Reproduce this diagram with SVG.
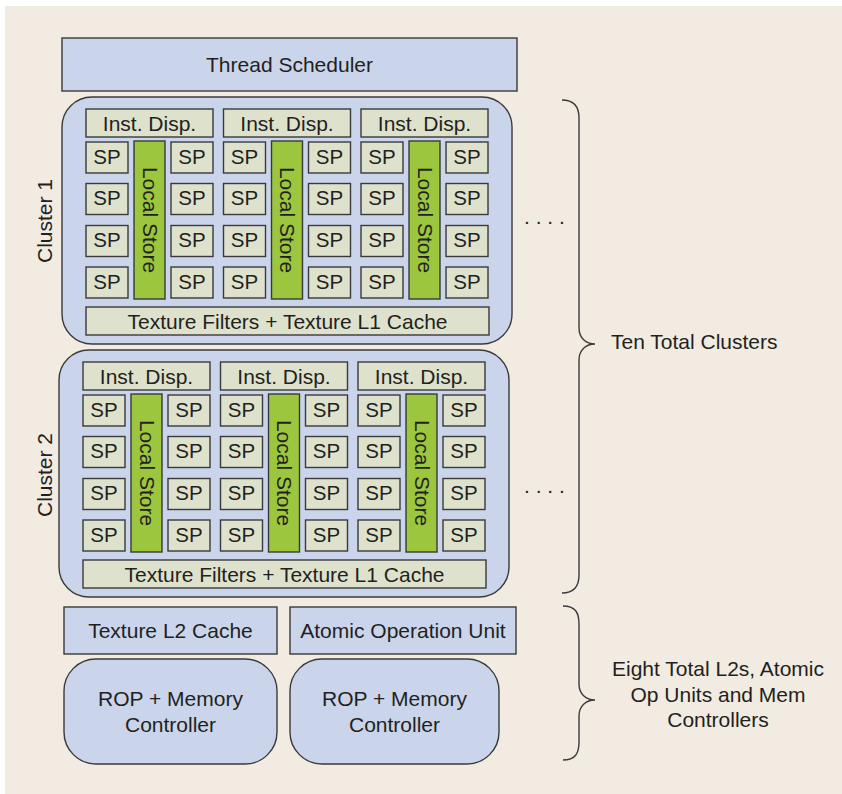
<svg xmlns="http://www.w3.org/2000/svg" width="842" height="794" viewBox="0 0 842 794">
<style>
text{font-family:"Liberation Sans",Arial,Helvetica,sans-serif;font-size:21px;fill:#231f20}
.m{text-anchor:middle}
.sp text{font-size:20.5px;text-anchor:middle}
.blue{fill:#cad5ec;stroke:#3a3a3a;stroke-width:1.4}
.lt{fill:#dee2cd;stroke:#3a3a3a;stroke-width:1.4}
.gr{fill:#9bc63d;stroke:#3a3a3a;stroke-width:1.4}
.br{fill:none;stroke:#3a3a3a;stroke-width:1.4}
</style>
<defs>
<g id="clusterBody">
  <g class="inst">
    <rect class="lt" x="86" y="109" width="127" height="28"/>
    <rect class="lt" x="223.5" y="109" width="127" height="28"/>
    <rect class="lt" x="361" y="109" width="127" height="28"/>
    <text class="m" x="149.5" y="130.5">Inst. Disp.</text>
    <text class="m" x="287" y="130.5">Inst. Disp.</text>
    <text class="m" x="424.5" y="130.5">Inst. Disp.</text>
  </g>
  <g class="sp">
    <rect class="lt" x="86" y="142" width="42" height="31"/><rect class="lt" x="171" y="142" width="42" height="31"/>
    <rect class="lt" x="223.5" y="142" width="42" height="31"/><rect class="lt" x="308.5" y="142" width="42" height="31"/>
    <rect class="lt" x="361" y="142" width="42" height="31"/><rect class="lt" x="446" y="142" width="42" height="31"/>
    <rect class="lt" x="86" y="183.5" width="42" height="31"/><rect class="lt" x="171" y="183.5" width="42" height="31"/>
    <rect class="lt" x="223.5" y="183.5" width="42" height="31"/><rect class="lt" x="308.5" y="183.5" width="42" height="31"/>
    <rect class="lt" x="361" y="183.5" width="42" height="31"/><rect class="lt" x="446" y="183.5" width="42" height="31"/>
    <rect class="lt" x="86" y="225.5" width="42" height="31"/><rect class="lt" x="171" y="225.5" width="42" height="31"/>
    <rect class="lt" x="223.5" y="225.5" width="42" height="31"/><rect class="lt" x="308.5" y="225.5" width="42" height="31"/>
    <rect class="lt" x="361" y="225.5" width="42" height="31"/><rect class="lt" x="446" y="225.5" width="42" height="31"/>
    <rect class="lt" x="86" y="267" width="42" height="31"/><rect class="lt" x="171" y="267" width="42" height="31"/>
    <rect class="lt" x="223.5" y="267" width="42" height="31"/><rect class="lt" x="308.5" y="267" width="42" height="31"/>
    <rect class="lt" x="361" y="267" width="42" height="31"/><rect class="lt" x="446" y="267" width="42" height="31"/>
    <text x="107" y="163.5">SP</text><text x="192" y="163.5">SP</text><text x="244.5" y="163.5">SP</text><text x="329.5" y="163.5">SP</text><text x="382" y="163.5">SP</text><text x="467" y="163.5">SP</text>
    <text x="107" y="205">SP</text><text x="192" y="205">SP</text><text x="244.5" y="205">SP</text><text x="329.5" y="205">SP</text><text x="382" y="205">SP</text><text x="467" y="205">SP</text>
    <text x="107" y="247">SP</text><text x="192" y="247">SP</text><text x="244.5" y="247">SP</text><text x="329.5" y="247">SP</text><text x="382" y="247">SP</text><text x="467" y="247">SP</text>
    <text x="107" y="288.5">SP</text><text x="192" y="288.5">SP</text><text x="244.5" y="288.5">SP</text><text x="329.5" y="288.5">SP</text><text x="382" y="288.5">SP</text><text x="467" y="288.5">SP</text>
  </g>
  <g class="ls">
    <rect class="gr" x="134" y="141" width="31" height="158"/>
    <rect class="gr" x="271.5" y="141" width="31" height="158"/>
    <rect class="gr" x="409" y="141" width="31" height="158"/>
    <text class="m" x="220" y="-142.5" transform="rotate(90)">Local Store</text>
    <text class="m" x="220" y="-280" transform="rotate(90)">Local Store</text>
    <text class="m" x="220" y="-417.5" transform="rotate(90)">Local Store</text>
  </g>
  <rect class="lt" x="86" y="307" width="403" height="28"/>
  <text class="m" x="287.5" y="328.5">Texture Filters + Texture L1 Cache</text>
</g>
</defs>
<rect x="5" y="6" width="837" height="788" fill="#f2ebe1"/>

<g id="thread-scheduler">
  <rect class="blue" x="62" y="38" width="455" height="53"/>
  <text class="m" x="289.5" y="72">Thread Scheduler</text>
</g>

<g id="cluster1">
  <rect class="blue" x="62" y="97" width="450" height="247" rx="30" ry="30"/>
  <use href="#clusterBody"/>
  <text class="m" transform="translate(51.5 221) rotate(-90)">Cluster 1</text>
</g>

<g id="cluster2">
  <rect class="blue" x="59" y="350" width="450" height="247" rx="30" ry="30"/>
  <use href="#clusterBody" transform="translate(-3 253)"/>
  <text class="m" transform="translate(51.5 475) rotate(-90)">Cluster 2</text>
</g>

<g id="dots1"><text x="524" y="224">. . . .</text></g>
<g id="dots2"><text x="524" y="493">. . . .</text></g>

<g id="texture-l2">
  <rect class="blue" x="64" y="607" width="213" height="47"/>
  <text class="m" x="170.5" y="638">Texture L2 Cache</text>
</g>
<g id="atomic-op">
  <rect class="blue" x="290" y="607" width="226" height="47"/>
  <text class="m" x="403" y="638">Atomic Operation Unit</text>
</g>
<g id="rop1">
  <rect class="blue" x="64" y="659" width="213" height="105" rx="32" ry="32"/>
  <text class="m" x="170.5" y="706">ROP + Memory</text>
  <text class="m" x="170.5" y="732">Controller</text>
</g>
<g id="rop2">
  <rect class="blue" x="290" y="659" width="209" height="105" rx="32" ry="32"/>
  <text class="m" x="394.5" y="706">ROP + Memory</text>
  <text class="m" x="394.5" y="732">Controller</text>
</g>

<g id="connectors">
  <path class="br" d="M562,100 C574,100 579,106 579,118 L579,328 C579,338 586,344 595,344 C586,344 579,350 579,360 L579,575 C579,587 574,593 562,593"/>
  <path class="br" d="M563,606 C575,606 579,612 579,624 L579,684 C579,694 586,700 595,700 C586,700 579,706 579,716 L579,742 C579,754 575,760 563,760"/>
</g>

<g id="label-clusters"><text x="611" y="349">Ten Total Clusters</text></g>
<g id="label-l2">
  <text class="m" x="718" y="676">Eight Total L2s, Atomic</text>
  <text class="m" x="718" y="702">Op Units and Mem</text>
  <text class="m" x="718" y="727">Controllers</text>
</g>
</svg>
